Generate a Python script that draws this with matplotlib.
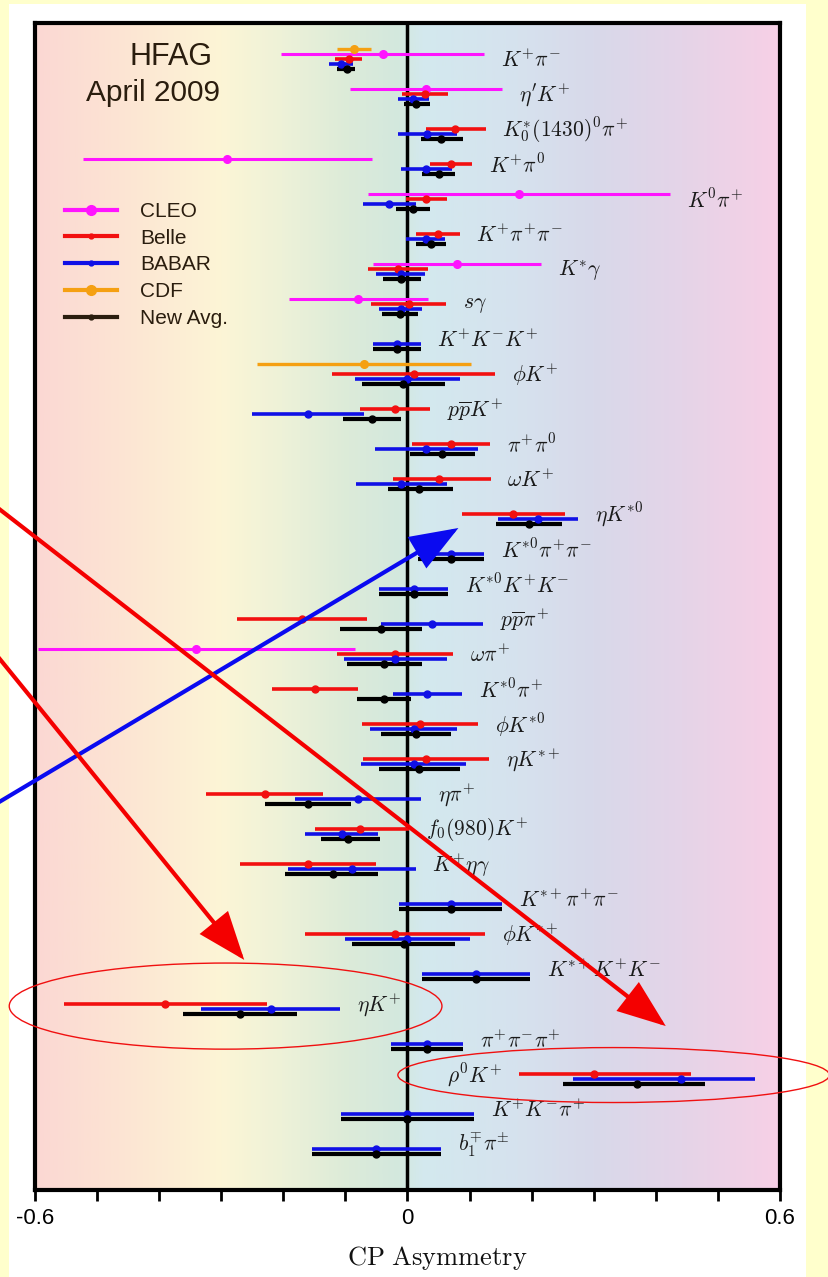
import numpy as np
import matplotlib
matplotlib.use('Agg')
import matplotlib.pyplot as plt
from matplotlib.colors import LinearSegmentedColormap
from matplotlib.patches import Rectangle, Ellipse, FancyArrowPatch
from matplotlib.lines import Line2D

plt.rcParams['mathtext.fontset'] = 'cm'

# ---------------- data ----------------
modes = [r'$K^{+}\pi^{-}$', r"$\eta^{\prime}K^{+}$", r'$K_0^{*}(1430)^0\pi^{+}$', r'$K^{+}\pi^0$',
         r'$K^0\pi^{+}$', r'$K^{+}\pi^{+}\pi^{-}$', r'$K^{*}\gamma$', r'$s\gamma$',
         r'$K^{+}K^{-}K^{+}$', r'$\phi K^{+}$', r'$p\overline{p}K^{+}$', r'$\pi^{+}\pi^0$',
         r'$\omega K^{+}$', r'$\eta K^{*0}$', r'$K^{*0}\pi^{+}\pi^{-}$', r'$K^{*0}K^{+}K^{-}$',
         r'$p\overline{p}\pi^{+}$', r'$\omega\pi^{+}$', r'$K^{*0}\pi^{+}$', r'$\phi K^{*0}$',
         r'$\eta K^{*+}$', r'$\eta\pi^{+}$', r'$f_0(980)K^{+}$', r'$K^{+}\eta\gamma$',
         r'$K^{*+}\pi^{+}\pi^{-}$', r'$\phi K^{*+}$', r'$K^{*+}K^{+}K^{-}$', r'$\eta K^{+}$',
         r'$\pi^{+}\pi^{-}\pi^{+}$', r'$\rho^0K^{+}$', r'$K^{+}K^{-}\pi^{+}$', r'$b_1^{\mp}\pi^{\pm}$']

cleo_rows = [1, 2, 4, 5, 7, 8, 18]
cleo_val = [-0.04, 0.03, -0.29, 0.18, 0.08, -0.079, -0.34]
cleo_err = [0.163, 0.123, 0.233, 0.243, 0.135, 0.112, 0.255]

cdf_rows = [1, 10]
cdf_val = [-0.086, -0.07]
cdf_err = [0.027, 0.173]

belle_rows = [1, 2, 3, 4, 5, 6, 7, 8, 10, 11, 12, 13, 14, 17, 18, 19, 20, 21, 22, 23, 24, 26, 28, 30]
belle_val = [-0.095, 0.028, 0.076, 0.07, 0.03, 0.049, -0.015, 0.002, 0.01, -0.02, 0.07, 0.05,
             0.17, -0.17, -0.02, -0.149, 0.02, 0.03, -0.23, -0.077, -0.16, -0.02, -0.39, 0.30]
belle_elo = [0.021, 0.037, 0.046, 0.034, 0.033, 0.035, 0.048, 0.060, 0.131, 0.056, 0.063, 0.073,
             0.083, 0.105, 0.094, 0.070, 0.094, 0.102, 0.094, 0.072, 0.110, 0.145, 0.164, 0.120]
belle_ehi = [0.021, 0.037, 0.050, 0.034, 0.033, 0.035, 0.048, 0.060, 0.131, 0.056, 0.063, 0.084,
             0.083, 0.105, 0.094, 0.070, 0.094, 0.102, 0.094, 0.079, 0.110, 0.145, 0.164, 0.157]

babar_rows = list(range(1, 33))
babar_val = [-0.107, 0.009, 0.032, 0.030, -0.029, 0.029, -0.011, -0.011, -0.017, 0.00, -0.16, 0.03,
             -0.01, 0.21, 0.07, 0.01, 0.04, -0.02, 0.032, 0.01, 0.01, -0.08, -0.106, -0.09,
             0.07, 0.00, 0.11, -0.22, 0.032, 0.44, 0.00, -0.05]
babar_elo = [0.019, 0.025, 0.048, 0.041, 0.042, 0.031, 0.039, 0.035, 0.038, 0.084, 0.090, 0.083,
             0.073, 0.065, 0.053, 0.056, 0.082, 0.083, 0.056, 0.070, 0.085, 0.102, 0.059, 0.103,
             0.083, 0.100, 0.087, 0.112, 0.058, 0.173, 0.107, 0.104]
babar_ehi = [0.019, 0.025, 0.048, 0.041, 0.042, 0.031, 0.039, 0.035, 0.038, 0.084, 0.090, 0.083,
             0.073, 0.065, 0.053, 0.056, 0.082, 0.083, 0.056, 0.070, 0.085, 0.102, 0.059, 0.103,
             0.083, 0.100, 0.087, 0.112, 0.058, 0.119, 0.107, 0.104]

avg_rows = list(range(1, 33))
avg_val = [-0.098, 0.013, 0.054, 0.050, 0.009, 0.038, -0.010, -0.012, -0.017, -0.007, -0.057, 0.056,
           0.018, 0.196, 0.07, 0.01, -0.042, -0.038, -0.038, 0.014, 0.018, -0.16, -0.096, -0.12,
           0.07, -0.006, 0.11, -0.27, 0.032, 0.37, 0.00, -0.05]
avg_elo = [0.015, 0.019, 0.032, 0.026, 0.027, 0.024, 0.029, 0.029, 0.038, 0.067, 0.047, 0.052,
           0.050, 0.053, 0.053, 0.056, 0.066, 0.060, 0.044, 0.056, 0.064, 0.069, 0.043, 0.077,
           0.083, 0.083, 0.087, 0.092, 0.058, 0.120, 0.107, 0.104]
avg_ehi = [0.013, 0.024, 0.036, 0.026, 0.027, 0.024, 0.031, 0.029, 0.038, 0.067, 0.047, 0.052,
           0.055, 0.053, 0.053, 0.056, 0.066, 0.062, 0.044, 0.056, 0.066, 0.069, 0.052, 0.073,
           0.083, 0.083, 0.087, 0.092, 0.058, 0.110, 0.107, 0.104]

legend_labels = ['CLEO', 'Belle', 'BABAR', 'CDF', 'New Avg.']
xtick_vals = [-0.6, 0.0, 0.6]
xtick_text = ['-0.6', '0', '0.6']

# ---------------- style ----------------
C_CLEO = '#ff14ff'
C_BELLE = '#f21010'
C_BABAR = '#1010e6'
C_CDF = '#f5a012'
C_AVG = '#000000'
TXT = '#2a1d0e'

W, H = 829, 1277
fig = plt.figure(figsize=(W / 100, H / 100), dpi=100, facecolor='#ffffcc')
panel = Rectangle((9 / W, 0), (806 - 9) / W, (H - 4) / H, transform=fig.transFigure,
                  facecolor='white', edgecolor='none', zorder=-10)
fig.add_artist(panel)
fig.text(258 / W, 1 + 3 / H, 'CP', color='#d9138a', fontsize=50, fontweight='bold',
         family='DejaVu Serif', ha='left', va='baseline', zorder=-5)

ax = fig.add_axes([35 / W, 1 - 1190 / H, 745 / W, 1167 / H])
ax.set_zorder(1)
ymin = 1 - (59 - 23) / 35.0
ymax = 32 + (1190 - 1144) / 35.0

stops = [(0.0, '#fbd8d3'), (0.12, '#fde5d3'), (0.25, '#fcf5d6'), (0.33, '#eef2d8'),
         (0.42, '#dcebd9'), (0.49, '#d3e8de'), (0.52, '#d3e9ee'), (0.65, '#d6e2ee'),
         (0.75, '#d8d9ea'), (0.87, '#e5d4e8'), (1.0, '#f7d0e6')]
cmap = LinearSegmentedColormap.from_list('bg', stops)
ax.imshow(np.linspace(0, 1, 512)[None, :], cmap=cmap, aspect='auto',
          extent=(-0.6, 0.6, ymax, ymin), zorder=0, interpolation='bilinear')
ax.set_xlim(-0.6, 0.6)
ax.set_ylim(ymax, ymin)

ax.axvline(0, color='black', lw=2.5, zorder=1)

off = 5 / 35.0
series = [
    (cdf_rows, cdf_val, cdf_err, cdf_err, C_CDF, -2 * off, 5.5, 2.4),
    (cleo_rows, cleo_val, cleo_err, cleo_err, C_CLEO, -off, 5.5, 2.2),
    (belle_rows, belle_val, belle_elo, belle_ehi, C_BELLE, 0.0, 5.0, 2.6),
    (babar_rows, babar_val, babar_elo, babar_ehi, C_BABAR, off, 5.0, 2.6),
    (avg_rows, avg_val, avg_elo, avg_ehi, C_AVG, 2 * off, 5.0, 3.0),
]
for rows, val, elo, ehi, col, dy, ms, lw in series:
    ax.errorbar(val, np.array(rows) + dy, xerr=[elo, ehi], fmt='o', color=col,
                ecolor=col, elinewidth=lw, ms=ms, capsize=0, zorder=3)

# decay mode labels
lo_all = {}
hi_all = {}
for rows, val, elo, ehi, *_ in series:
    for r, v, a, b in zip(rows, val, elo, ehi):
        lo_all[r] = min(lo_all.get(r, 9), v - a)
        hi_all[r] = max(hi_all.get(r, -9), v + b)
for i, lab in enumerate(modes, start=1):
    if hi_all[i] > 0.5:
        ax.text(lo_all[i] - 0.027, i + 0.03, lab, ha='right', va='center',
                fontsize=15.5, color='#1a1a1a', zorder=4)
    else:
        ax.text(hi_all[i] + 0.027, i + 0.03, lab, ha='left', va='center',
                fontsize=15.5, color='#1a1a1a', zorder=4)

# axes styling
for s in ax.spines.values():
    s.set_linewidth(3)
ax.set_yticks([])
ticks = np.round(np.arange(-0.6, 0.61, 0.1), 2)
ax.set_xticks(ticks)
ax.set_xticklabels([xtick_text[xtick_vals.index(t)] if t in xtick_vals else '' for t in ticks],
                   family='Liberation Sans', fontsize=16)
ax.tick_params(axis='x', direction='out', length=8, width=2, pad=5, top=False)

fig.text(437 / W, 1 - 1265 / H, r'$\mathrm{CP\ Asymmetry}$', fontsize=19,
         ha='center', va='baseline', color='#111111')

fig.text(171 / W, 1 - 65 / H, 'HFAG', fontsize=22, family='Liberation Sans',
         ha='center', va='baseline', color=TXT, zorder=5)
fig.text(153 / W, 1 - 101 / H, 'April 2009', fontsize=21.5, family='Liberation Sans',
         ha='center', va='baseline', color=TXT, zorder=5)

# legend
handles = [Line2D([], [], color=C_CLEO, lw=3, marker='o', ms=7),
           Line2D([], [], color=C_BELLE, lw=3, marker='o', ms=3.5),
           Line2D([], [], color=C_BABAR, lw=3, marker='o', ms=3.5),
           Line2D([], [], color=C_CDF, lw=3, marker='o', ms=7),
           Line2D([], [], color='#2a1d0e', lw=3, marker='o', ms=3.5)]
ax.legend(handles, legend_labels, loc='upper left', bbox_to_anchor=(65 / W, 1 - 202 / H),
          bbox_transform=fig.transFigure, frameon=False, borderpad=0, borderaxespad=0,
          handlelength=2.5, handletextpad=1.1, labelspacing=0.37,
          prop={'family': 'Liberation Sans', 'size': 15}, labelcolor=TXT)

# annotations (data coordinates: asymmetry, row)
ell1 = Ellipse((-0.293, 28.06), 0.697, 2.46, fill=False, edgecolor='#f01010', lw=1,
               clip_on=False, zorder=5)
ell2 = Ellipse((0.332, 30.03), 0.695, 1.57, fill=False, edgecolor='#f01010', lw=1,
               clip_on=False, zorder=5)
ax.add_patch(ell1)
ax.add_patch(ell2)

arrows = [((-0.672, 22.38), (0.082, 14.40), '#0a0af0', 5),
          ((-0.672, 13.66), (0.416, 28.63), '#f40000', 6),
          ((-0.672, 17.81), (-0.263, 26.74), '#f40000', 6)]
for (x0, y0), (x1, y1), col, z in arrows:
    ar = FancyArrowPatch((x0, y0), (x1, y1), arrowstyle='-|>,head_length=29,head_width=11',
                         mutation_scale=1, color=col, lw=3, clip_on=False, zorder=z,
                         shrinkA=0, shrinkB=0, joinstyle='miter')
    ax.add_patch(ar)

fig.savefig('out.png', dpi=100, facecolor=fig.get_facecolor())
